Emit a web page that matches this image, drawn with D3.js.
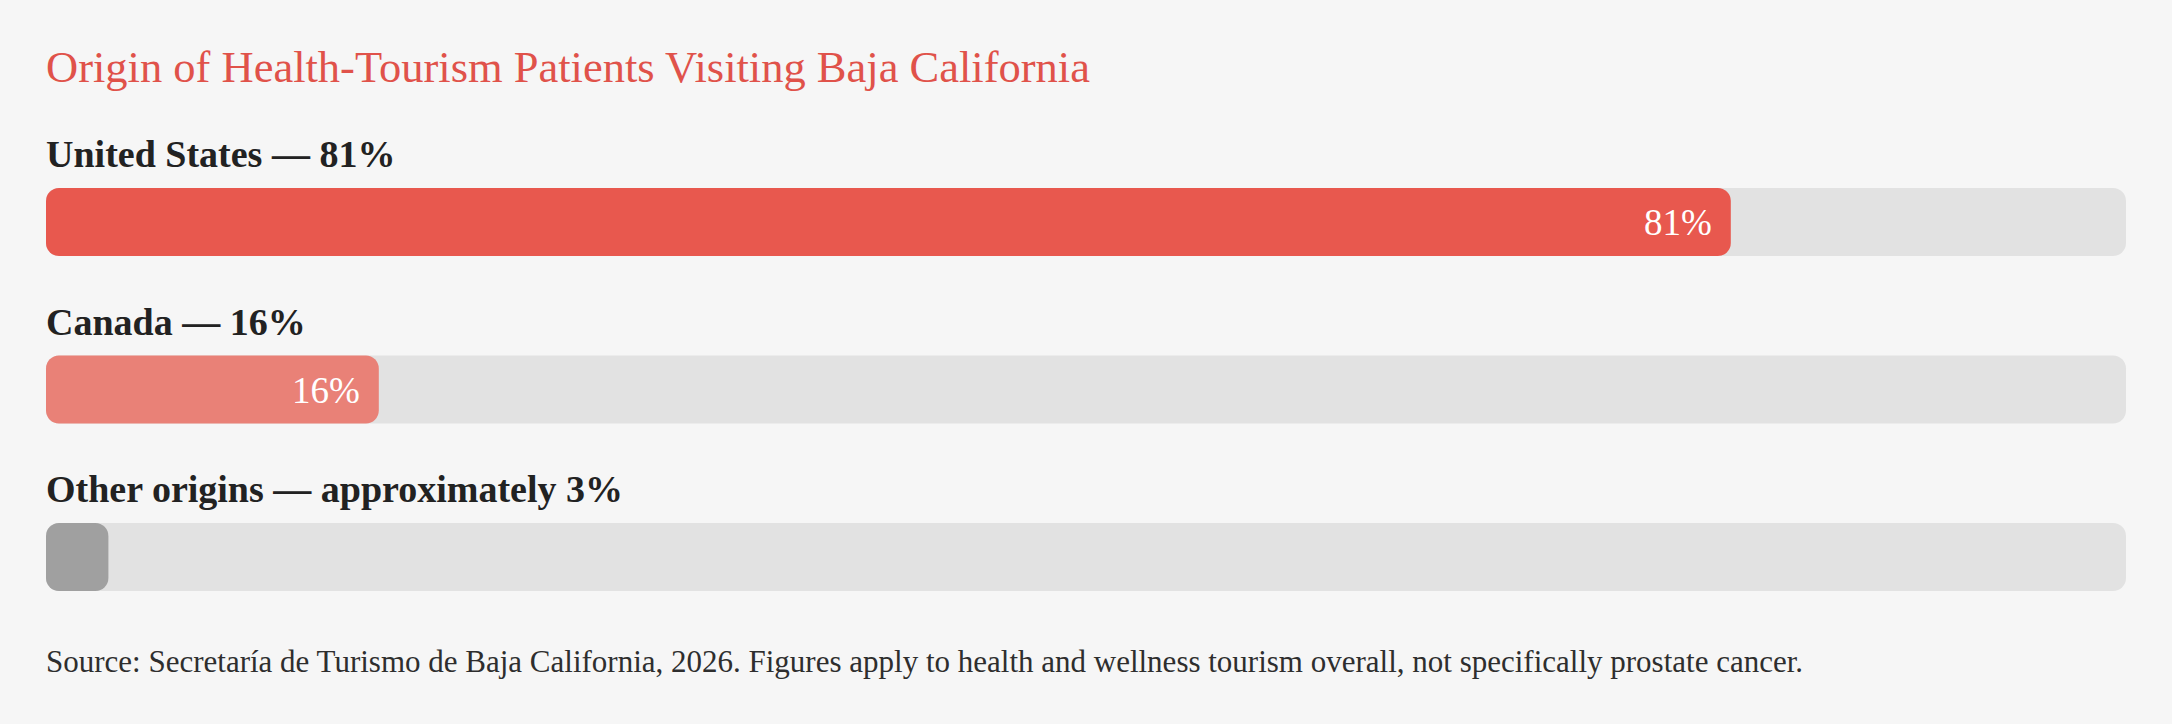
<!DOCTYPE html>
<html>
<head>
<meta charset="utf-8">
<script src="https://cdn.jsdelivr.net/npm/d3@7"></script>
<style>
  html, body { margin: 0; padding: 0; background: #f6f6f6; }
  #origin-chart { width: 2172px; height: 724px; }
  text { font-family: 'Liberation Serif', 'Times New Roman', serif; }
</style>
</head>
<body>
<div id="origin-chart"></div>
<script>
const title = 'Origin of Health-Tourism Patients Visiting Baja California'
const categories = ['United States', 'Canada', 'Other origins']
const labelPrefix = ['', '', 'approximately ']
const values = [81, 16, 3]
const source = 'Source: Secretaría de Turismo de Baja California, 2026. Figures apply to health and wellness tourism overall, not specifically prostate cancer.'

const colors = ['#e8584e', '#e98177', '#a0a0a0']

const margin = { top: 188, right: 46, bottom: 132, left: 46 }
const width = 2172 - margin.left - margin.right
const height = 724 - margin.top - margin.bottom
const barHeight = 68
const radius = 13

const svg = d3
  .select('#origin-chart')
  .append('svg')
  .attr('width', 2172)
  .attr('height', 724)

svg
  .append('text')
  .attr('x', margin.left)
  .attr('y', 82)
  .attr('fill', '#e0524a')
  .attr('font-size', 44.5)
  .text(title)

const g = svg.append('g').attr('transform', `translate(${margin.left}, ${margin.top})`)

// scales
const xScale = d3.scaleLinear().domain([0, 100]).range([0, width])
const yScale = d3
  .scalePoint()
  .domain(categories)
  .range([0, 335])

const rows = g
  .selectAll('.row')
  .data(categories)
  .enter()
  .append('g')
  .attr('class', 'row')
  .attr('transform', (d) => `translate(0, ${yScale(d)})`)

rows
  .append('text')
  .attr('x', 0)
  .attr('y', -21)
  .attr('fill', '#222222')
  .attr('font-size', 38)
  .attr('font-weight', 'bold')
  .text((d, i) => `${d} — ${labelPrefix[i]}${values[i]}%`)

// track
rows
  .append('rect')
  .attr('x', 0)
  .attr('y', 0)
  .attr('width', xScale(100))
  .attr('height', barHeight)
  .attr('rx', radius)
  .attr('fill', '#e2e2e2')

// fill
rows
  .append('rect')
  .attr('x', 0)
  .attr('y', 0)
  .attr('width', (d, i) => Math.max(xScale(values[i]), 2 * radius))
  .attr('height', barHeight)
  .attr('rx', radius)
  .attr('fill', (d, i) => colors[i])

rows
  .filter((d, i) => xScale(values[i]) > 120)
  .append('text')
  .attr('x', (d, i) => xScale(values[i]) - 19)
  .attr('y', barHeight / 2 + 13)
  .attr('text-anchor', 'end')
  .attr('fill', '#ffffff')
  .attr('font-size', 37)
  .text((d, i) => `${values[i]}%`)

svg
  .append('text')
  .attr('x', margin.left)
  .attr('y', 672)
  .attr('fill', '#2e2e2e')
  .attr('font-size', 31)
  .text(source)
</script>
</body>
</html>
